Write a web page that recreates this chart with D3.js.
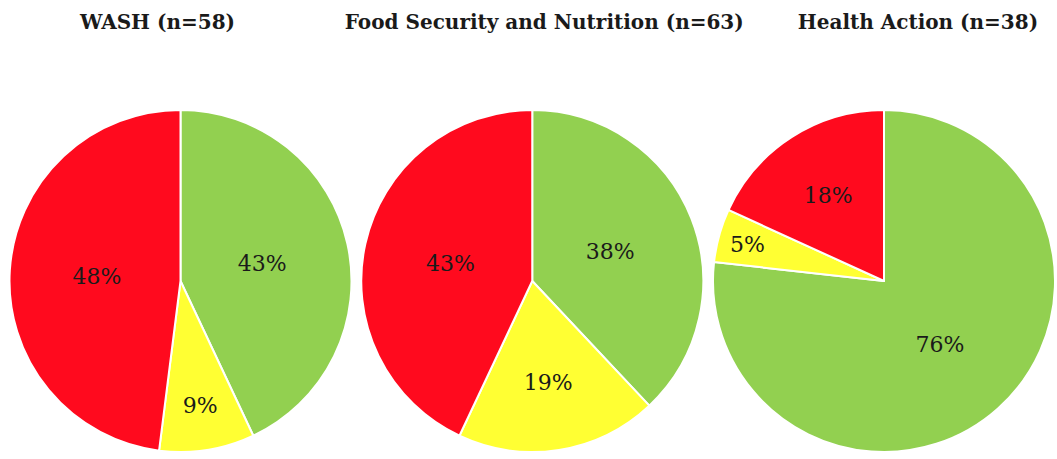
<!DOCTYPE html>
<html>
<head>
<meta charset="utf-8">
<script src="https://cdn.jsdelivr.net/npm/d3@7"></script>
<style>
  body { margin: 0; background: #fff; }
  svg { display: block; }
</style>
</head>
<body>
<svg id="chart" width="1057" height="459"></svg>
<script>
// chart values
var titles = ["WASH (n=58)", "Food Security and Nutrition (n=63)", "Health Action (n=38)"]
var categories = ["green", "yellow", "red"]
var washValues = [43, 9, 48]
var foodValues = [38, 19, 43]
var healthValues = [76, 5, 18]

var seriesList = [washValues, foodValues, healthValues]

var width = 1057,
    height = 459;

var color = d3.scaleOrdinal()
    .domain(categories)
    .range(["#92D050", "#FFFF33", "#FF0A1E"])

var radius = 171

var centerX = d3.scalePoint()
    .domain(titles)
    .range([180.5, 884])

// titles are not centred over their pies in the original
var titleShift = [-23, 12, 34]

// small slices get their label pushed further out, as the original does
labelFrac = d3.scaleLinear().domain([0.05, 0.1, 0.2, 0.3]).range([0.83, 0.71, 0.58, 0.49]).clamp(true)

var svg = d3.select("#chart")

var pie = d3.pie().sort(null).value(d => d.value)
var arc = d3.arc().innerRadius(0).outerRadius(radius)

titles.forEach(function(title, i){
  var values = seriesList[i]
  var total = d3.sum(values)
  var data = values.map((v, j) => ({cat: categories[j], value: v}))

  var g = svg.append("g")
    .attr("transform", "translate(" + centerX(title) + ",281)")

  svg.append("text")
    .attr("x", centerX(title) + titleShift[i])
    .attr("y", 29)
    .attr("text-anchor", "middle")
    .attr("font-family", "'DejaVu Serif', serif")
    .attr("font-weight", "bold")
    .attr("font-size", 20)
    .attr("fill", "#1a1a1a")
    .text(title)

  var arcs = pie(data)

  g.selectAll("path")
    .data(arcs)
    .join("path")
    .attr("d", arc)
    .attr("fill", d => color(d.data.cat))
    .attr("stroke", "#fff")
    .attr("stroke-width", 2)
    .attr("stroke-linejoin", "round")

  g.selectAll("text")
    .data(arcs)
    .join("text")
    .attr("transform", function(d){
      var r = radius * labelFrac(d.data.value / total)
      var a = (d.startAngle + d.endAngle) / 2
      return "translate(" + (Math.sin(a) * r) + "," + (-Math.cos(a) * r) + ")"
    })
    .attr("text-anchor", "middle")
    .attr("dy", "0.38em")
    .attr("font-family", "'DejaVu Serif', serif")
    .attr("font-size", 22)
    .attr("fill", "#1a1a1a")
    .text(d => d.data.value + "%")
})
</script>
</body>
</html>
